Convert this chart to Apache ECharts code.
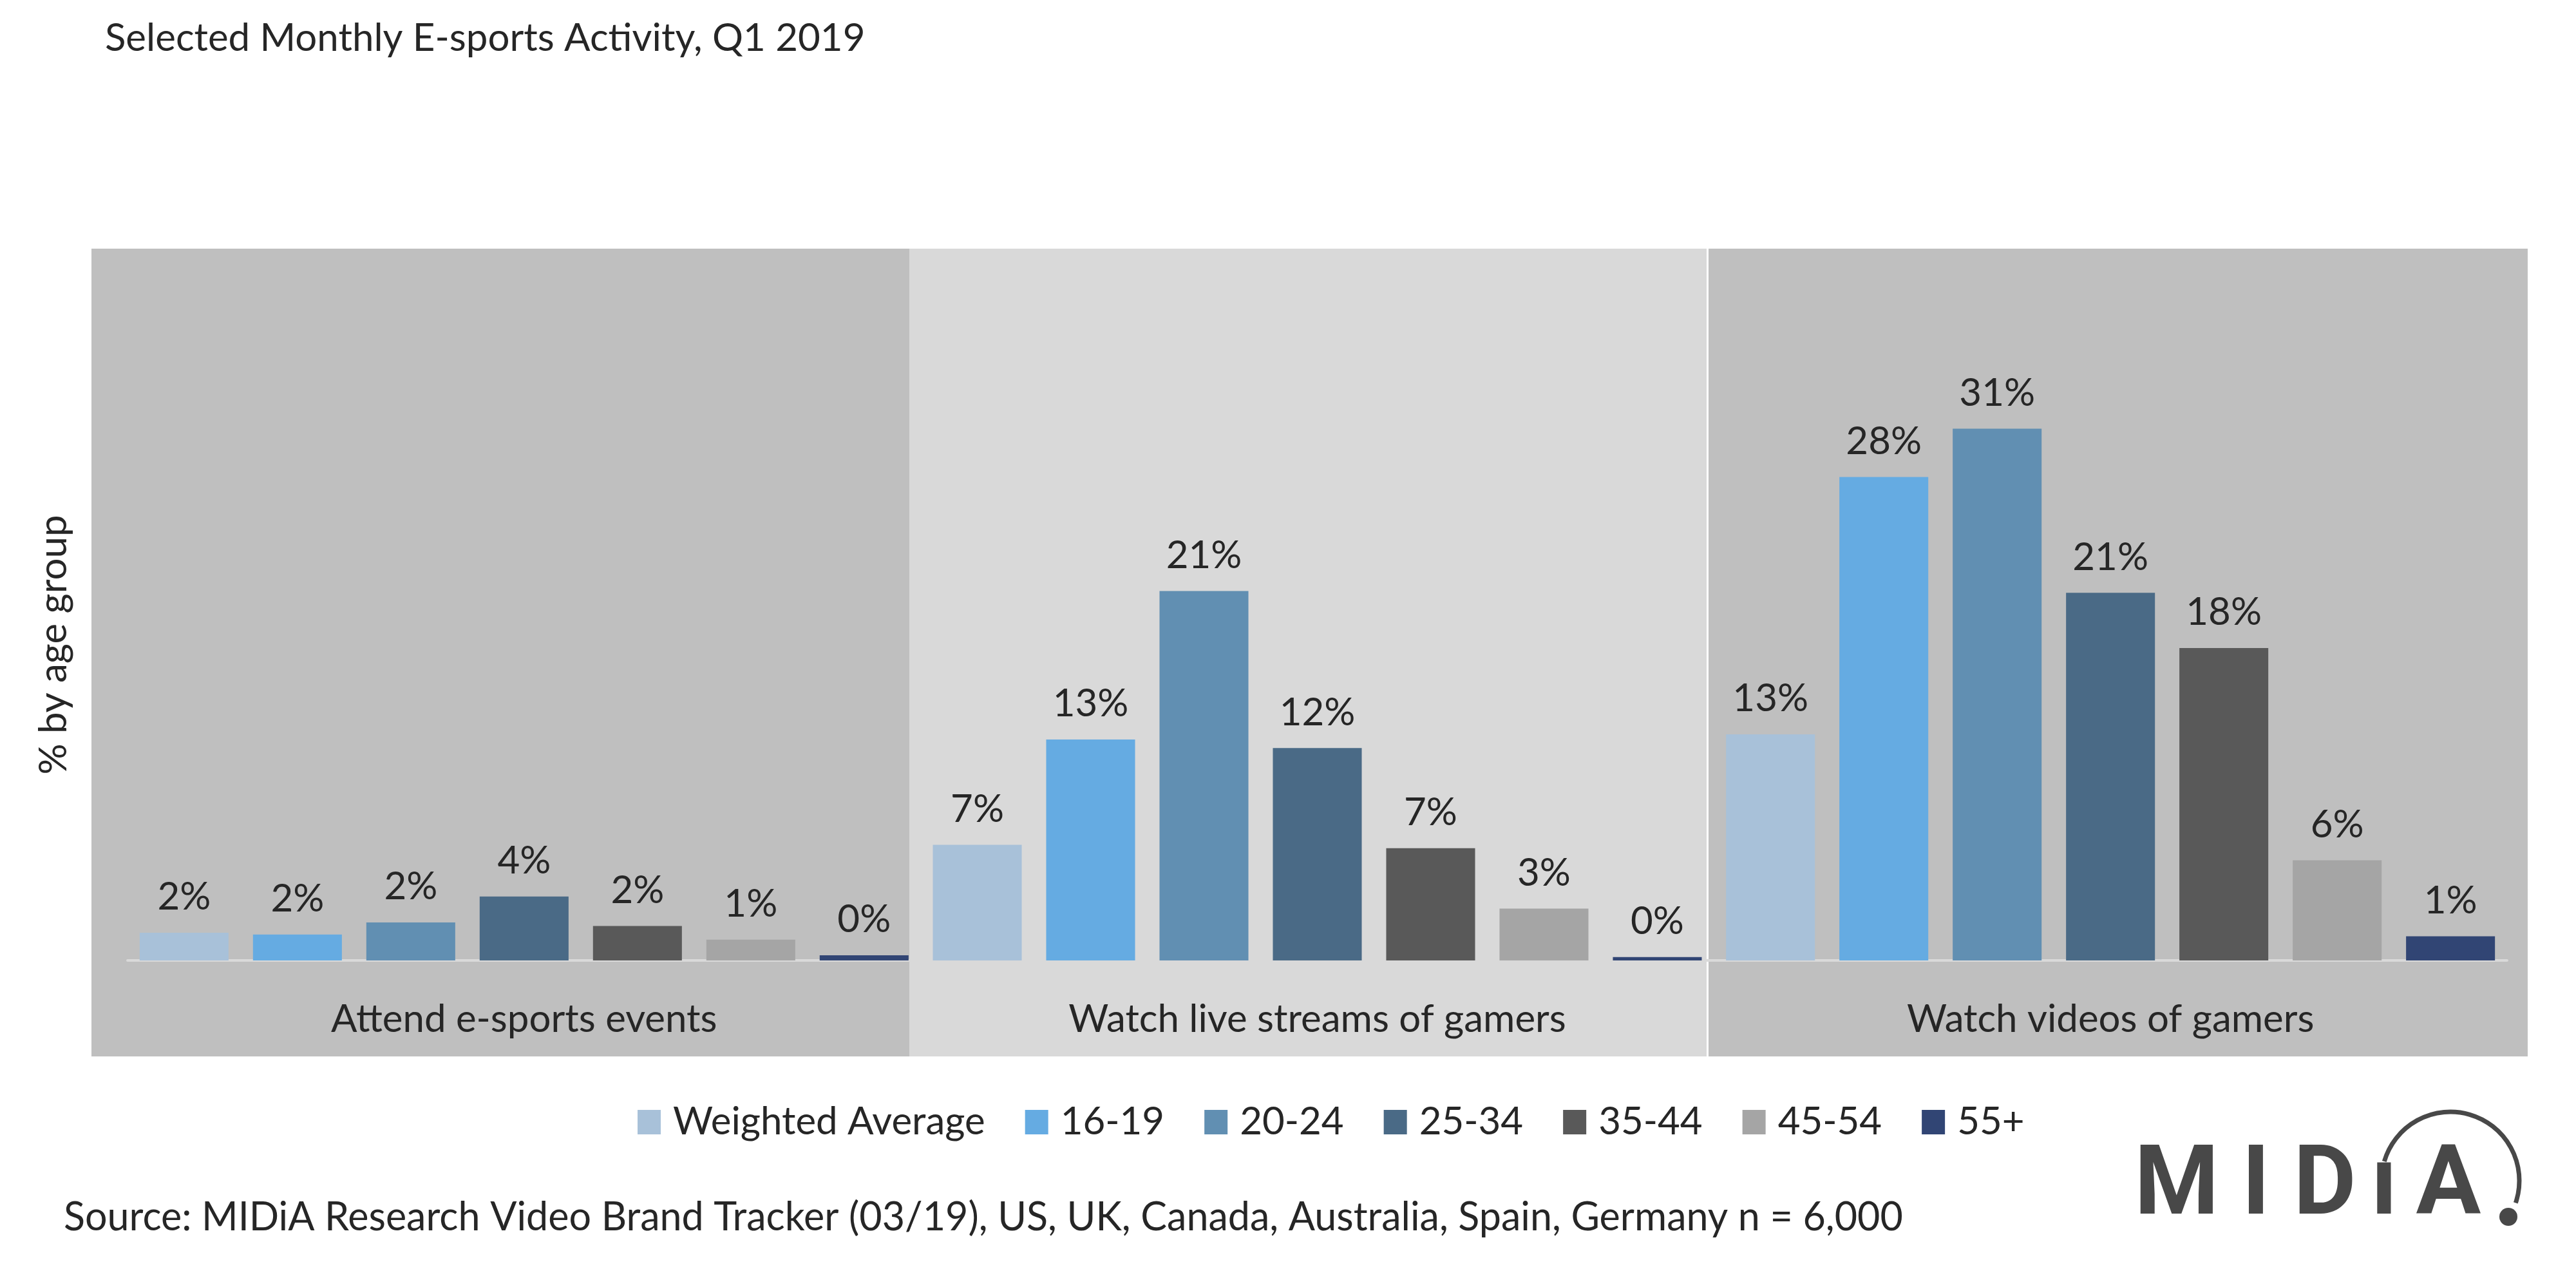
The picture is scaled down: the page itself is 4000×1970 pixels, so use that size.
<!DOCTYPE html>
<html>
<head>
<meta charset="utf-8">
<script src="https://cdn.jsdelivr.net/npm/echarts@6/dist/echarts.min.js"></script>
<style>
html,body{margin:0;padding:0;background:#fff;}
#chart{width:4000px;height:1970px;}
</style>
</head>
<body>
<div id="chart"></div>
<script>
// ---- data ----
const titleText = 'Selected Monthly E-sports Activity, Q1 2019';
const sourceText = 'Source: MIDiA Research Video Brand Tracker (03/19), US, UK, Canada, Australia, Spain, Germany n = 6,000';
const yAxisTitle = '% by age group';
const categories = ['Attend e-sports events', 'Watch live streams of gamers', 'Watch videos of gamers'];
const ageGroups = ['Weighted Average', '16-19', '20-24', '25-34', '35-44', '45-54', '55+'];
const weightedAverage = [1.6, 6.7, 13.1];
const age16to19 = [1.5, 12.8, 28.0];
const age20to24 = [2.2, 21.4, 30.8];
const age25to34 = [3.7, 12.3, 21.3];
const age35to44 = [2.0, 6.5, 18.1];
const age45to54 = [1.2, 3.0, 5.8];
const age55plus = [0.3, 0.2, 1.4];
const seriesValues = [weightedAverage, age16to19, age20to24, age25to34, age35to44, age45to54, age55plus];
const colors = ['#A8C1D9', '#65ABE2', '#618FB2', '#4A6A86', '#595959', '#A5A5A5', '#314574'];

const FONT = 'Lato';
const TXT = '#262626';

const chart = echarts.init(document.getElementById('chart'), null, {renderer: 'canvas'});

const series = ageGroups.map((name, i) => ({
  name: name,
  type: 'bar',
  data: seriesValues[i],
  barGap: '27.5%',
  barCategoryGap: '3.06%',
  itemStyle: {color: colors[i]},
  label: {
    show: true,
    position: 'top',
    distance: 25,
    color: TXT,
    fontFamily: FONT,
    fontSize: 60,
    formatter: p => Math.round(p.value) + '%'
  }
}));

const logoLetters = [
  {t: 'M', x: 3380, size: 150},
  {t: 'I', x: 3503, size: 150},
  {t: 'D', x: 3610, size: 150},
  {t: 'ı', x: 3702, size: 150},
  {t: 'A', x: 3802, size: 150}
];

const option = {
  backgroundColor: '#ffffff',
  animation: false,
  color: colors,
  grid: {left: 198, right: 107, top: 419, bottom: 479, containLabel: false},
  xAxis: {
    type: 'category',
    data: categories,
    offset: 2,
    axisLine: {show: true, lineStyle: {color: '#D9D9D9', width: 4}},
    axisTick: {show: false},
    axisLabel: {color: TXT, fontFamily: FONT, fontSize: 60, margin: 60, interval: 0},
    splitLine: {show: false}
  },
  yAxis: {
    type: 'value',
    min: 0,
    max: 40,
    interval: 10,
    axisLine: {show: false},
    axisTick: {show: false},
    axisLabel: {show: false},
    splitLine: {show: false}
  },
  legend: {
    data: ageGroups,
    left: 985,
    top: 1707,
    icon: 'rect',
    itemWidth: 36,
    itemHeight: 38,
    itemGap: 62,
    textStyle: {color: TXT, fontFamily: FONT, fontSize: 60, padding: [0, 0, 0, 14]}
  },
  graphic: [
    // plot panels
    {type: 'rect', z: -10, silent: true, shape: {x: 142, y: 386, width: 1270, height: 1254}, style: {fill: '#BFBFBF'}},
    {type: 'rect', z: -10, silent: true, shape: {x: 1412, y: 386, width: 1238, height: 1254}, style: {fill: '#D9D9D9'}},
    {type: 'rect', z: -10, silent: true, shape: {x: 2653, y: 386, width: 1272, height: 1254}, style: {fill: '#BFBFBF'}},
    // title
    {type: 'text', left: 163, top: 30, style: {text: titleText, fill: TXT, font: '60px ' + FONT}},
    // y-axis title
    {type: 'text', x: 84, y: 1001, rotation: Math.PI / 2, style: {text: yAxisTitle, fill: TXT, font: '60px ' + FONT, align: 'center', verticalAlign: 'middle'}},
    // source
    {type: 'text', left: 99, top: 1860, style: {text: sourceText, fill: TXT, font: '61px ' + FONT}},
    // logo
    {
      type: 'group', silent: true,
      children: logoLetters.map(l => ({
        type: 'text',
        style: {text: l.t, x: l.x, y: 1846, fill: '#484848', font: 'bold ' + l.size + 'px Roboto', align: 'center', verticalAlign: 'middle'}
      })).concat([
        {type: 'arc', shape: {cx: 3805, cy: 1833, r: 107, startAngle: 3.426, endAngle: 6.611, clockwise: true}, style: {stroke: '#484848', lineWidth: 7, fill: null}},
        {type: 'circle', shape: {cx: 3895, cy: 1889, r: 14}, style: {fill: '#484848'}}
      ])
    }
  ],
  series: series
};

chart.setOption(option);
</script>
</body>
</html>
